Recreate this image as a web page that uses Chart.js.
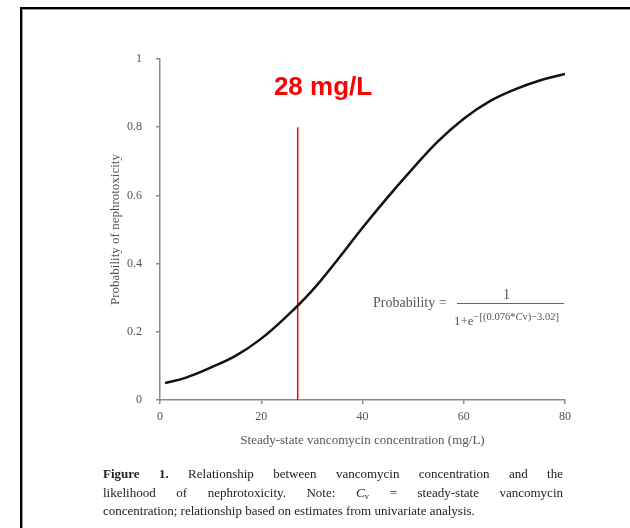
<!DOCTYPE html>
<html>
<head>
<meta charset="utf-8">
<script src="https://cdn.jsdelivr.net/npm/chart.js@4"></script>
<style>
  html, body { margin: 0; padding: 0; background: #fff; overflow: hidden; }
  #page { position: relative; width: 630px; height: 528px; overflow: hidden; background: #fff; }
  #frame {
    position: absolute; left: 20px; top: 7px; width: 640px; height: 560px;
    border-top: 2px solid #000; border-left: 2px solid #000;
    box-shadow: inset 1px 1px 0 #999;
  }
  #chartBox { position: absolute; left: 0; top: 0; width: 630px; height: 528px; }
  .serif { font-family: "Liberation Serif", "DejaVu Serif", serif; }
  .formula { position: absolute; color: #555; font-size: 14px; line-height: 16px; white-space: nowrap; }
  #fracBar { position: absolute; left: 457px; top: 303px; width: 107px; height: 1px; background: #666; }
  #caption { position: absolute; left: 103px; top: 465px; width: 460px; font-size: 13px; line-height: 18.5px; color: #222; }
  #caption .j { text-align: justify; text-align-last: justify; }
  #caption .sub { font-size: 9px; line-height: 0; vertical-align: -2px; }
</style>
</head>
<body>
<div id="page">
  <div id="frame"></div>
  <div id="chartBox"><canvas id="probChart" width="630" height="528"></canvas></div>

  <!-- logistic model formula -->
  <div class="formula serif" style="left:373px; top:295px;">Probability =</div>
  <div class="formula serif" style="left:503px; top:287px;">1</div>
  <div id="fracBar"></div>
  <div class="formula serif" style="left:454px; top:313px; font-size:13px;">1+e<span style="font-size:10.5px; position:relative; top:-5px;">−[(0.076*<i>C</i>v)−3.02]</span></div>

  <div id="caption" class="serif">
    <div class="j"><b>Figure 1.</b> Relationship between vancomycin concentration and the</div>
    <div class="j">likelihood of nephrotoxicity. Note: <i>C</i><span class="sub">v</span> = steady-state vancomycin</div>
    <div>concentration; relationship based on estimates from univariate analysis.</div>
  </div>
</div>

<script>
// Curve (concentration mg/L -> probability)
const concentrations = [1, 5, 10, 15, 20, 25, 30, 35, 40, 45, 50, 55, 60, 65, 70, 75, 80];
const probabilities = [0.05, 0.065, 0.095, 0.13, 0.18, 0.245, 0.32, 0.41, 0.505, 0.595, 0.68, 0.76, 0.825, 0.875, 0.91, 0.937, 0.956];

// Red threshold marker
const thresholdX = 27.2;
const thresholdY = [0, 0.8];
const thresholdLabel = '28 mg/L';

const xTicks = [0, 20, 40, 60, 80];
const yTicks = [0, 0.2, 0.4, 0.6, 0.8, 1];

const axisGray = '#8a8a8a';
const textGray = '#555';
const serifFont = '"Liberation Serif", "DejaVu Serif", serif';

// Draws the "28 mg/L" label above the red line
const thresholdLabelPlugin = {
    id: 'thresholdLabel',
    afterDatasetsDraw(chart) {
        const {ctx, scales} = chart;
        const x = scales.x.getPixelForValue(32.2);
        const y = scales.y.getPixelForValue(0.894);
        ctx.save();
        ctx.fillStyle = '#ff0000';
        ctx.font = 'bold 26px "Liberation Sans", Arial, sans-serif';
        ctx.textAlign = 'center';
        ctx.textBaseline = 'alphabetic';
        ctx.fillText(thresholdLabel, x, y);
        ctx.restore();
    }
};

const ctx = document.getElementById('probChart').getContext('2d');

new Chart(ctx, {
    type: 'line',
    data: {
        datasets: [
            {
                data: concentrations.map((c, i) => ({x: c, y: probabilities[i]})),
                borderColor: '#111',
                borderWidth: 2.5,
                pointRadius: 0,
                tension: 0.4,
                fill: false
            },
            {
                data: thresholdY.map(v => ({x: thresholdX, y: v})),
                borderColor: '#ff0000',
                borderWidth: 1.5,
                pointRadius: 0,
                fill: false
            }
        ]
    },
    options: {
        responsive: false,
        animation: false,
        events: [],
        layout: {
            padding: {left: 0, top: 59, right: 65, bottom: 0}
        },
        plugins: {
            legend: {display: false},
            tooltip: {enabled: false}
        },
        scales: {
            x: {
                type: 'linear',
                min: 0,
                max: 80,
                afterBuildTicks: (scale) => { scale.ticks = xTicks.map(v => ({value: v})); },
                afterFit: (scale) => { scale.height = 128; },
                grid: {drawOnChartArea: false, color: axisGray, tickLength: 4, lineWidth: 1.5},
                border: {color: axisGray, width: 1.5},
                ticks: {
                    color: textGray,
                    padding: 6,
                    maxRotation: 0,
                    font: {family: serifFont, size: 12}
                },
                title: {
                    display: true,
                    text: 'Steady-state vancomycin concentration (mg/L)',
                    color: textGray,
                    font: {family: serifFont, size: 13},
                    padding: {top: 0, bottom: 80}
                }
            },
            y: {
                min: 0,
                max: 1,
                afterBuildTicks: (scale) => { scale.ticks = yTicks.map(v => ({value: v})); },
                afterFit: (scale) => { scale.width = 160; },
                grid: {drawOnChartArea: false, color: axisGray, tickLength: 4, lineWidth: 1.5},
                border: {color: axisGray, width: 1.5},
                ticks: {
                    color: textGray,
                    padding: 14,
                    font: {family: serifFont, size: 12},
                    callback: (v) => String(v)
                },
                title: {
                    display: true,
                    text: 'Probability of nephrotoxicity',
                    color: textGray,
                    font: {family: serifFont, size: 13},
                    padding: {top: 108, bottom: 0}
                }
            }
        }
    },
    plugins: [thresholdLabelPlugin]
});
</script>
</body>
</html>
